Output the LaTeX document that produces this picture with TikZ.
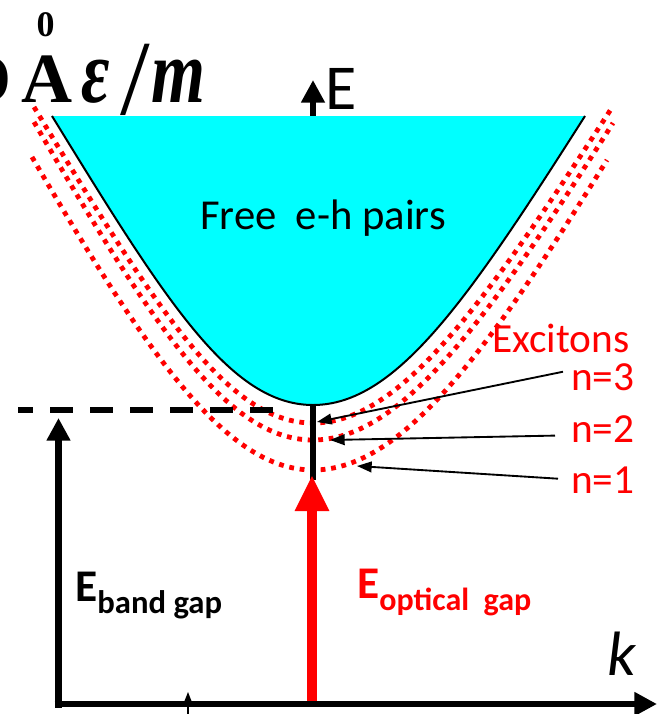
\documentclass[tikz,border=0pt]{standalone}
\usepackage{fontspec}
\setmainfont{Carlito}
\newfontfamily\timesfont{Liberation Serif}
\usepackage{graphicx}
\usetikzlibrary{arrows.meta,calc}
\definecolor{aqua}{RGB}{0,255,255}

\begin{document}
\begin{tikzpicture}[x=0.75pt,y=0.75pt,yscale=-1,xscale=1,
		axis/.style={line width=5.2pt,-{Triangle[length=17pt,width=17pt]}},
		exciton/.style={red,line width=3.6pt,dash pattern=on 3.6pt off 4.3pt},
		pointer/.style={line width=1.4pt,-{Triangle[length=11pt,width=8pt]}},
		redlabel/.style={text=red,inner sep=0pt,anchor=base west,font=\fontsize{31pt}{31pt}\selectfont}]
	\useasboundingbox (0,0) rectangle (664,714);
	
	%Shape: Curve n=1
	\draw [exciton] (32,157) .. controls (150,360) and (228,470) .. (313,470) .. controls (398,470) and (480,365) .. (607,160) ;
	%Shape: Curve n=2
	\draw [exciton] (34,122) .. controls (155,330) and (228,440) .. (313,440) .. controls (398,440) and (482,330) .. (613,123) ;
	%Shape: Curve n=3
	\draw [exciton] (34,107) .. controls (158,312) and (228,423) .. (313,423) .. controls (398,423) and (480,312) .. (613,106) ;
	
	%Shape: Axis E
	\coordinate (efoot) at (313,480);
	\coordinate (etop) at (313,80);
	\draw [axis] (efoot) -- (etop);
	%Shape: Polygon Curved
	\fill [aqua] (52,116) .. controls (165,300) and (230,405) .. (313,405) .. controls (396,405) and (468,300) .. (585,116) -- cycle ;
	\draw [line width=1.5pt] (52,116) .. controls (165,300) and (230,405) .. (313,405) .. controls (396,405) and (468,300) .. (585,116) ;
	
	%Shape: Dashed line
	\coordinate (gapleft) at (18,410);
	\coordinate (gapright) at (274,410);
	\draw [line width=4.4pt,dash pattern=on 17.25pt off 12.75pt,dash phase=6pt] (gapleft) -- (gapright);
	
	%Shape: Tick
	\coordinate (tickfoot) at (188,714);
	\coordinate (ticktip) at (188,692);
	\draw [line width=1pt,-{Triangle[length=8pt,width=6pt]}] (tickfoot) -- (ticktip);
	
	%Shape: Optical gap arrow
	\coordinate (optfoot) at (312,704);
	\coordinate (opttip) at (312,475);
	\draw [red,line width=7.5pt,-{Triangle[length=27pt,width=24pt]}] (optfoot) -- (opttip);
	
	%Shape: Axes
	\coordinate (bandfoot) at (58.5,707.5);
	\coordinate (bandtip) at (58.5,418);
	\coordinate (kfoot) at (54.5,704);
	\coordinate (ktip) at (657,704);
	\draw [axis] (bandfoot) -- (bandtip);
	\draw [axis] (kfoot) -- (ktip);
	
	% Text Node
	\node (free) [anchor=base west,inner sep=0pt,font=\fontsize{32pt}{32pt}\selectfont] at (200,229) {Free~ e-h pairs};
	% Text Node
	\node (elabel) [anchor=base west,inner sep=0pt,font=\fontsize{48pt}{48pt}\selectfont] at (325,109) {E};
	% Text Node
	\node (excitons) [redlabel] at (492,352) {Excitons};
	% Text Node
	\node (n3) [redlabel] at (571,390) {n=3};
	% Text Node
	\node (n2) [redlabel] at (571,442) {n=2};
	% Text Node
	\node (n1) [redlabel] at (571,493) {n=1};
	% Text Node
	\node (bandgap) [anchor=base west,inner sep=0pt,font=\bfseries] at (75,601) {\fontsize{34pt}{34pt}\selectfont E\raisebox{-9pt}{\fontsize{24.5pt}{24.5pt}\selectfont band gap}};
	% Text Node
	\node (optgap) [anchor=base west,inner sep=0pt,text=red,font=\bfseries] at (357,598) {\fontsize{34pt}{34pt}\selectfont E\raisebox{-9pt}{\fontsize{24pt}{24pt}\selectfont optical~ gap}};
	% Text Node
	\node (klabel) [anchor=base west,inner sep=0pt,font=\itshape\fontsize{47pt}{47pt}\selectfont] at (607,675) {k};
	
	% Text Node
	\node (dpart) [anchor=base east,inner sep=0pt,font=\timesfont\bfseries\fontsize{53pt}{53pt}\selectfont] at (12,102) {D};
	% Text Node
	\node (amp) [anchor=base west,inner sep=0pt,font=\timesfont\bfseries\fontsize{53pt}{53pt}\selectfont] at (21,102) {A};
	% Text Node
	\node (zero) [inner sep=0pt,font=\timesfont\bfseries\fontsize{27pt}{27pt}\selectfont] at (45.5,25) {0};
	% Text Node
	\node (eps) [anchor=base west,inner sep=0pt,font=\timesfont\bfseries\itshape\fontsize{52pt}{52pt}\selectfont] at (81,102) {\scalebox{1}[1.3]{ε}};
	% Text Node
	\node (slash) [inner sep=0pt,font=\timesfont\fontsize{80pt}{80pt}\selectfont] at (135.5,80) {/};
	% Text Node
	\node (mass) [anchor=base west,inner sep=0pt,font=\timesfont\bfseries\itshape\fontsize{52pt}{52pt}\selectfont] at (151,102) {\scalebox{1}[1.3]{m}};
	
	%Shape: Pointers
	\coordinate (c3) at (317,422);
	\coordinate (c2) at (330,440);
	\coordinate (c1) at (357,466);
	\draw [pointer] ($(n3.west)+(-8,-5)$) -- (c3);
	\draw [pointer] ($(n2.west)+(-16,7)$) -- (c2);
	\draw [pointer] ($(n1.west)+(-13,-1)$) -- (c1);
	
\end{tikzpicture}
\end{document}
